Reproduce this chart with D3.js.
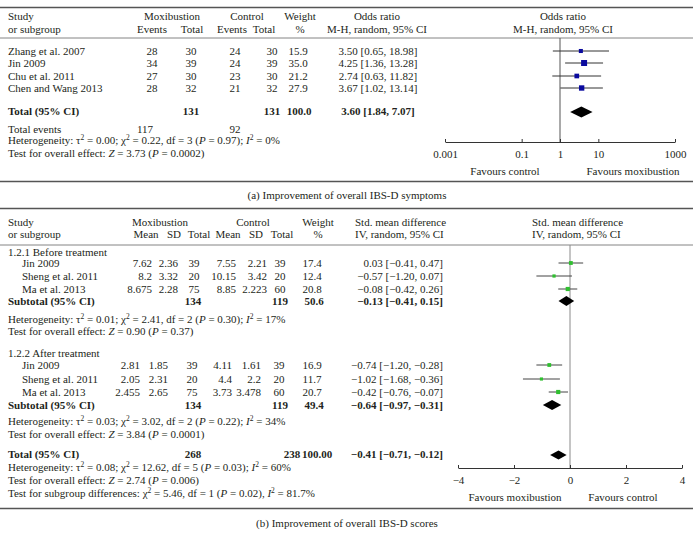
<!DOCTYPE html>
<html>
<head>
<meta charset="utf-8">
<script src="https://cdn.jsdelivr.net/npm/d3@7/dist/d3.min.js"></script>
<style>
body { margin: 0; background: #fff; }
svg text { font-family: "Liberation Serif", "DejaVu Serif", serif; font-size: 11px; fill: #231f20; }
</style>
</head>
<body>
<div id="chart"></div>
<script>
// ---- panel (a) data
var studiesA = ['Zhang et al. 2007', 'Jin 2009', 'Chu et al. 2011', 'Chen and Wang 2013'];
var moxEventsA = [28, 34, 27, 28];
var moxTotalA = [30, 39, 30, 32];
var ctrlEventsA = [24, 24, 23, 21];
var ctrlTotalA = [30, 39, 30, 32];
var weightA = [15.9, 35.0, 21.2, 27.9];
var orA = [3.50, 4.25, 2.74, 3.67];
var orLowA = [0.65, 1.36, 0.63, 1.02];
var orHighA = [18.98, 13.28, 11.82, 13.14];
var totalA = [3.60, 1.84, 7.07];      // pooled OR, low, high
var totalNA = [131, 131];             // mox, control
var totalEventsA = [117, 92];
var orTicks = [0.001, 0.1, 1, 10, 1000];

// ---- panel (b) data
var subgroupsB = ['1.2.1 Before treatment', '1.2.2 After treatment'];
var studiesB = ['Jin 2009', 'Sheng et al. 2011', 'Ma et al. 2013'];
var moxMeanB = [[7.62, 8.2, 8.675], [2.81, 2.05, 2.455]];
var moxSdB = [[2.36, 3.32, 2.28], [1.85, 2.31, 2.65]];
var moxNB = [[39, 20, 75], [39, 20, 75]];
var ctrlMeanB = [[7.55, 10.15, 8.85], [4.11, 4.4, 3.73]];
var ctrlSdB = [[2.21, 3.42, 2.223], [1.61, 2.2, 3.478]];
var ctrlNB = [[39, 20, 60], [39, 20, 60]];
var weightB = [[17.4, 12.4, 20.8], [16.9, 11.7, 20.7]];
var smdB = [[0.03, -0.57, -0.08], [-0.74, -1.02, -0.42]];
var smdLowB = [[-0.41, -1.20, -0.42], [-1.20, -1.68, -0.76]];
var smdHighB = [[0.47, 0.07, 0.26], [-0.28, -0.36, -0.07]];
var subtotalB = [[-0.13, -0.41, 0.15], [-0.64, -0.97, -0.31]];
var subtotalNB = [[134, 119, 50.6], [134, 119, 49.4]];
var totalB = [-0.41, -0.71, -0.12];
var totalNB = [268, 238];
var smdTicks = [-4, -2, 0, 2, 4];

var width = 693, height = 546;
var svg = d3.select('#chart').append('svg').attr('width', width).attr('height', height);

var f2 = d3.format('.2f'), f1 = d3.format('.1f');
var ci = (m, l, h) => f2(m) + ' [' + f2(l) + ', ' + f2(h) + ']';

function txt(x, y, s, anchor, bold) {
    return svg.append('text').attr('x', x).attr('y', y).attr('dy', '0.35em')
        .attr('text-anchor', anchor || 'start')
        .attr('font-weight', bold ? 'bold' : null).text(s);
}
// column of values through a join
function col(vals, x, ys, anchor, fmt, bold) {
    svg.append('g').selectAll('text').data(vals).join('text')
        .attr('x', x).attr('y', (d, i) => ys[i]).attr('dy', '0.35em')
        .attr('text-anchor', anchor).attr('font-weight', bold ? 'bold' : null)
        .text(d => fmt ? fmt(d) : d);
}
// text with italics and superscripts
function rich(x, y, parts) {
    var t = svg.append('text').attr('x', x).attr('y', y).attr('dy', '0.35em');
    var up = false;
    parts.forEach(p => {
        var s = t.append('tspan').text(p[0]);
        if (p[1] == 'i') s.attr('font-style', 'italic');
        if (p[1] == 's') { s.style('font-size', '7.5px').attr('dy', -4); up = true; }
        else if (up) { s.attr('dy', 4); up = false; }
    });
}
function hline(y, w, c) {
    svg.append('line').attr('x1', 0).attr('x2', width).attr('y1', y).attr('y2', y)
        .attr('stroke', c || '#555').attr('stroke-width', w || 1);
}
function diamond(x, y, m, l, h, hh) {
    svg.append('path').attr('fill', '#000')
        .attr('d', `M${x(l)},${y}L${x(m)},${y - hh}L${x(h)},${y}L${x(m)},${y + hh}Z`);
}

// ================= panel (a)
hline(7.5, 1.4);
hline(38, 0.8, '#666');
txt(8, 16, 'Study'); txt(8, 29, 'or subgroup');
txt(172, 16, 'Moxibustion', 'middle'); txt(152, 29, 'Events', 'middle'); txt(192, 29, 'Total', 'middle');
txt(247, 16, 'Control', 'middle'); txt(232, 29, 'Events', 'middle'); txt(264, 29, 'Total', 'middle');
txt(300, 16, 'Weight', 'middle'); txt(300, 29, '%', 'middle');
txt(377, 16, 'Odds ratio', 'middle'); txt(377, 29, 'M-H, random, 95% CI', 'middle');
txt(563, 16, 'Odds ratio', 'middle'); txt(563, 29, 'M-H, random, 95% CI', 'middle');

var rowYA = [51, 63, 76, 88];
col(studiesA, 8, rowYA, 'start');
col(moxEventsA, 152, rowYA, 'middle');
col(moxTotalA, 191, rowYA, 'middle');
col(ctrlEventsA, 235, rowYA, 'middle');
col(ctrlTotalA, 272, rowYA, 'middle');
col(weightA, 298, rowYA, 'middle', f1);
col(orA.map((d, i) => ci(d, orLowA[i], orHighA[i])), 378, rowYA, 'middle');

txt(8, 111, 'Total (95% CI)', 'start', true);
txt(191, 111, totalNA[0], 'middle', true);
txt(272, 111, totalNA[1], 'middle', true);
txt(299, 111, '100.0', 'middle', true);
txt(378, 111, ci(totalA[0], totalA[1], totalA[2]), 'middle', true);
txt(8, 129, 'Total events');
txt(145, 129, totalEventsA[0], 'middle');
txt(235, 129, totalEventsA[1], 'middle');
rich(8, 140, [['Heterogeneity: τ'], ['2', 's'], [' = 0.00; χ'], ['2', 's'], [' = 0.22, df = 3 ('], ['P', 'i'], [' = 0.97); '], ['I', 'i'], ['2', 's'], [' = 0%']]);
rich(8, 153, [['Test for overall effect: '], ['Z', 'i'], [' = 3.73 ('], ['P', 'i'], [' = 0.0002)']]);

var xA = d3.scaleLog().domain([0.001, 1000]).range([445, 675]);
var sizeA = d3.scaleSqrt().domain([0, 35]).range([0, 6]);
svg.append('line').attr('x1', xA(1)).attr('x2', xA(1)).attr('y1', 38).attr('y2', 142)
    .attr('stroke', '#555').attr('stroke-width', 1);
var gA = svg.append('g');
gA.selectAll('line').data(orA).join('line')
    .attr('x1', (d, i) => xA(orLowA[i])).attr('x2', (d, i) => xA(orHighA[i]))
    .attr('y1', (d, i) => rowYA[i]).attr('y2', (d, i) => rowYA[i])
    .attr('stroke', '#333').attr('stroke-width', 1);
gA.selectAll('rect').data(orA).join('rect')
    .attr('x', (d, i) => xA(d) - sizeA(weightA[i]) / 2)
    .attr('y', (d, i) => rowYA[i] - sizeA(weightA[i]) / 2)
    .attr('width', (d, i) => sizeA(weightA[i])).attr('height', (d, i) => sizeA(weightA[i]))
    .attr('fill', '#0a0a9e');
diamond(xA, 112, totalA[0], totalA[1], totalA[2], 5.5);

var axA = svg.append('g').attr('transform', 'translate(0,142)')
    .call(d3.axisBottom(xA).tickValues(orTicks).tickFormat(d => d).tickSize(-3).tickSizeOuter(0).tickPadding(8));
axA.select('.domain').attr('stroke', '#333');
axA.selectAll('line').attr('stroke', '#333');
txt(505, 171, 'Favours control', 'middle');
txt(633, 171, 'Favours moxibustion', 'middle');
hline(181.5, 1.4);
txt(347, 195, '(a)  Improvement of overall IBS-D symptoms', 'middle');

// ================= panel (b)
hline(208.5, 1.4);
hline(245, 0.8, '#666');
txt(8, 222, 'Study'); txt(8, 234, 'or subgroup');
txt(160, 222, 'Moxibustion', 'middle'); txt(146, 234, 'Mean', 'middle'); txt(174, 234, 'SD', 'middle'); txt(199, 234, 'Total', 'middle');
txt(253, 222, 'Control', 'middle'); txt(228, 234, 'Mean', 'middle'); txt(256, 234, 'SD', 'middle'); txt(282, 234, 'Total', 'middle');
txt(318, 222, 'Weight', 'middle'); txt(318, 234, '%', 'middle');
txt(355, 222, 'Std. mean difference'); txt(355, 234, 'IV, random, 95% CI');
txt(532, 222, 'Std. mean difference'); txt(532, 234, 'IV, random, 95% CI');

var xB = d3.scaleLinear().domain([-4, 4]).range([458, 682]);
var sizeB = d3.scaleSqrt().domain([0, 25]).range([0, 4.6]);
svg.append('line').attr('x1', xB(0)).attr('x2', xB(0)).attr('y1', 245).attr('y2', 468)
    .attr('stroke', '#8a8a8a').attr('stroke-width', 1);

// layout per subgroup: header y, row ys, subtotal y, het y, test y, column x's
var layoutB = [
    { head: 252, rows: [263, 276, 289], sub: 301, het: 319, test: 331,
      mm: 152, ms: 178, mn: 194, cm: 236, cs: 267, cn: 280 },
    { head: 353, rows: [365, 379, 392], sub: 405, het: 421, test: 434,
      mm: 140, ms: 168, mn: 192, cm: 232, cs: 261, cn: 279 }
];
var hetB = [['0.01', '2.41', '2', '0.30', '17%'], ['0.03', '3.02', '2', '0.22', '34%']];
var testB = [['0.90', '0.37'], ['3.84', '0.0001']];

subgroupsB.forEach((name, g) => {
    var L = layoutB[g];
    txt(8, L.head, name);
    col(studiesB, 22, L.rows, 'start');
    col(moxMeanB[g], L.mm, L.rows, 'end');
    col(moxSdB[g], L.ms, L.rows, 'end');
    col(moxNB[g], L.mn, L.rows, 'middle');
    col(ctrlMeanB[g], L.cm, L.rows, 'end');
    col(ctrlSdB[g], L.cs, L.rows, 'end');
    col(ctrlNB[g], L.cn, L.rows, 'middle');
    col(weightB[g], 312, L.rows, 'middle', f1);
    col(smdB[g].map((d, i) => ci(d, smdLowB[g][i], smdHighB[g][i])), 443, L.rows, 'end');

    txt(8, L.sub, 'Subtotal (95% CI)', 'start', true);
    txt(193, L.sub, subtotalNB[g][0], 'middle', true);
    txt(280, L.sub, subtotalNB[g][1], 'middle', true);
    txt(314, L.sub, f1(subtotalNB[g][2]), 'middle', true);
    txt(443, L.sub, ci(subtotalB[g][0], subtotalB[g][1], subtotalB[g][2]), 'end', true);
    var h = hetB[g];
    rich(8, L.het, [['Heterogeneity: τ'], ['2', 's'], [' = ' + h[0] + '; χ'], ['2', 's'], [' = ' + h[1] + ', df = ' + h[2] + ' ('], ['P', 'i'], [' = ' + h[3] + '); '], ['I', 'i'], ['2', 's'], [' = ' + h[4]]]);
    rich(8, L.test, [['Test for overall effect: '], ['Z', 'i'], [' = ' + testB[g][0] + ' ('], ['P', 'i'], [' = ' + testB[g][1] + ')']]);

    var gg = svg.append('g');
    gg.selectAll('line').data(smdB[g]).join('line')
        .attr('x1', (d, i) => xB(smdLowB[g][i])).attr('x2', (d, i) => xB(smdHighB[g][i]))
        .attr('y1', (d, i) => L.rows[i]).attr('y2', (d, i) => L.rows[i])
        .attr('stroke', '#444').attr('stroke-width', 1);
    gg.selectAll('rect').data(smdB[g]).join('rect')
        .attr('x', (d, i) => xB(d) - sizeB(weightB[g][i]) / 2)
        .attr('y', (d, i) => L.rows[i] - sizeB(weightB[g][i]) / 2)
        .attr('width', (d, i) => sizeB(weightB[g][i])).attr('height', (d, i) => sizeB(weightB[g][i]))
        .attr('fill', '#2fbf2f');
    diamond(xB, L.sub, subtotalB[g][0], subtotalB[g][1], subtotalB[g][2], 5);
});

txt(8, 454, 'Total (95% CI)', 'start', true);
txt(193, 454, totalNB[0], 'middle', true);
txt(292, 454, totalNB[1], 'middle', true);
txt(317, 454, '100.00', 'middle', true);
txt(443, 454, ci(totalB[0], totalB[1], totalB[2]), 'end', true);
diamond(xB, 455, totalB[0], totalB[1], totalB[2], 4.5);
rich(8, 467, [['Heterogeneity: τ'], ['2', 's'], [' = 0.08; χ'], ['2', 's'], [' = 12.62, df = 5 ('], ['P', 'i'], [' = 0.03); '], ['I', 'i'], ['2', 's'], [' = 60%']]);
rich(8, 480, [['Test for overall effect: '], ['Z', 'i'], [' = 2.74 ('], ['P', 'i'], [' = 0.006)']]);
rich(8, 493, [['Test for subgroup differences: χ'], ['2', 's'], [' = 5.46, df = 1 ('], ['P', 'i'], [' = 0.02), '], ['I', 'i'], ['2', 's'], [' = 81.7%']]);

var axB = svg.append('g').attr('transform', 'translate(0,468)')
    .call(d3.axisBottom(xB).tickValues(smdTicks).tickSize(-3).tickSizeOuter(0).tickPadding(8));
axB.select('.domain').attr('stroke', '#333');
axB.selectAll('line').attr('stroke', '#333');
txt(515, 497, 'Favours moxibustion', 'middle');
txt(623, 497, 'Favours control', 'middle');
hline(508.5, 1.4);
txt(347, 523, '(b)  Improvement of overall IBS-D scores', 'middle');
</script>
</body>
</html>
